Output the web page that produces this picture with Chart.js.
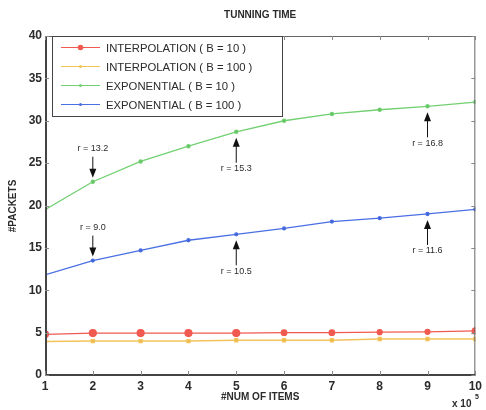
<!DOCTYPE html>
<html>
<head>
<meta charset="utf-8">
<script src="https://cdn.jsdelivr.net/npm/chart.js@4"></script>
<style>
  html, body { margin: 0; padding: 0; background: #fff; }
  #wrap { width: 486px; height: 410px; }
</style>
</head>
<body>
<div id="wrap"><canvas id="timeChart" width="486" height="410"></canvas></div>
<script>
const items = [1, 2, 3, 4, 5, 6, 7, 8, 9, 10];
const interp10 = [4.8, 4.95, 4.95, 4.95, 4.95, 5.0, 5.0, 5.05, 5.1, 5.2];
const interp100 = [3.95, 4.0, 4.0, 4.0, 4.1, 4.1, 4.1, 4.25, 4.25, 4.25];
const expo10 = [19.5, 22.8, 25.2, 27.0, 28.7, 30.0, 30.8, 31.3, 31.7, 32.2];
const expo100 = [11.8, 13.5, 14.7, 15.9, 16.6, 17.3, 18.1, 18.5, 19.0, 19.55];
const seriesNames = [
  "INTERPOLATION ( B = 10 )",
  "INTERPOLATION ( B = 100 )",
  "EXPONENTIAL ( B = 10 )",
  "EXPONENTIAL ( B = 100 )",
];
const yTicks = [0, 5, 10, 15, 20, 25, 30, 35, 40];
// ratio notes: dataset index, point index, text, arrow direction
const notes = [
  [2, 1, "r = 13.2", "down"],
  [3, 1, "r = 9.0", "down"],
  [2, 4, "r = 15.3", "up"],
  [3, 4, "r = 10.5", "up"],
  [2, 8, "r = 16.8", "up"],
  [3, 8, "r = 11.6", "up"],
];

const FONT = "'Liberation Sans', Arial, sans-serif";
const ink = "#2b2b2b";

function pts(vals) {
  return vals.map((v, i) => ({ x: items[i], y: v }));
}

const frame = {
  id: "frame",
  afterDraw(chart) {
    const ctx = chart.ctx;
    const a = chart.chartArea;
    const xs = chart.scales.x;
    const ys = chart.scales.y;
    ctx.save();

    // box + inward ticks
    ctx.strokeStyle = "#666";
    ctx.lineWidth = 1;
    ctx.strokeRect(a.left + 0.5, a.top + 0.5, a.right - a.left - 1, a.bottom - a.top);
    ctx.strokeStyle = "#444";
    ctx.lineWidth = 2;
    ctx.beginPath();
    ctx.moveTo(a.left + 1, a.top);
    ctx.lineTo(a.left + 1, a.bottom);
    ctx.lineTo(a.right, a.bottom);
    ctx.stroke();
    ctx.lineWidth = 1;
    ctx.strokeStyle = "#888";
    ctx.beginPath();
    items.forEach((v) => {
      const px = Math.round(xs.getPixelForValue(v)) + 0.5;
      ctx.moveTo(px, a.bottom); ctx.lineTo(px, a.bottom - 4);
      ctx.moveTo(px, a.top); ctx.lineTo(px, a.top + 4);
    });
    yTicks.forEach((v) => {
      const py = Math.round(ys.getPixelForValue(v)) + 0.5;
      ctx.moveTo(a.left, py); ctx.lineTo(a.left + 4, py);
      ctx.moveTo(a.right, py); ctx.lineTo(a.right - 4, py);
    });
    ctx.stroke();

    // titles
    ctx.fillStyle = ink;
    ctx.textAlign = "center";
    ctx.textBaseline = "middle";
    ctx.font = "bold 10px " + FONT;
    ctx.fillText("TUNNING TIME", (a.left + a.right) / 2, 15);
    ctx.fillText("#NUM OF ITEMS", (a.left + a.right) / 2, 397);
    ctx.textAlign = "left";
    ctx.fillText("x 10", 452, 404);
    ctx.font = "bold 7px " + FONT;
    ctx.fillText("5", 475, 397);
    ctx.textAlign = "center";
    ctx.save();
    ctx.translate(13, 206);
    ctx.rotate(-Math.PI / 2);
    ctx.font = "bold 10px " + FONT;
    ctx.fillText("#PACKETS", 0, 0);
    ctx.restore();

    // ratio notes with arrows pointing at the marked point
    ctx.font = "9px " + FONT;
    notes.forEach(([di, pi, text, dir]) => {
      const p = chart.getDatasetMeta(di).data[pi];
      const x = p.x;
      const s = dir === "up" ? 1 : -1;
      const tip = p.y + s * (dir === "up" ? 6 : 4);
      const tail = p.y + s * (dir === "up" ? 31 : 25);
      const lab = p.y + s * (dir === "up" ? 37 : 33);
      ctx.strokeStyle = "#111";
      ctx.lineWidth = 1;
      ctx.beginPath();
      ctx.moveTo(x, tail);
      ctx.lineTo(x, tip + s * 6);
      ctx.stroke();
      ctx.fillStyle = "#111";
      ctx.beginPath();
      ctx.moveTo(x, tip);
      ctx.lineTo(x - 3.5, tip + s * 9);
      ctx.lineTo(x + 3.5, tip + s * 9);
      ctx.closePath();
      ctx.fill();
      ctx.fillStyle = ink;
      ctx.fillText(text, x, lab);
    });

    // legend box
    const lx = 52, ly = 36, lw = 230, lh = 80;
    ctx.fillStyle = "#fff";
    ctx.fillRect(lx, ly, lw, lh);
    ctx.strokeStyle = "#444";
    ctx.strokeRect(lx + 0.5, ly + 0.5, lw, lh);
    ctx.font = "11.3px " + FONT;
    ctx.textAlign = "left";
    chart.data.datasets.forEach((ds, i) => {
      const y = ly + 11.5 + i * 19;
      ctx.strokeStyle = ds.borderColor;
      ctx.lineWidth = 1;
      ctx.beginPath();
      ctx.moveTo(61, y);
      ctx.lineTo(100, y);
      ctx.stroke();
      ctx.fillStyle = ds.borderColor;
      ctx.beginPath();
      ctx.arc(80.5, y, i === 0 ? 2.8 : 1.5, 0, Math.PI * 2);
      ctx.fill();
      ctx.fillStyle = ink;
      ctx.fillText(ds.label, 106, y + 1);
    });
    ctx.restore();
  },
};

new Chart(document.getElementById("timeChart"), {
  type: "line",
  data: {
    datasets: [
      {
        label: seriesNames[0],
        data: pts(interp10),
        borderColor: "#f05a50",
        backgroundColor: "#f05a50",
        pointRadius: [3.5, 3.5, 3.5, 3.5, 3.5, 2.8, 2.8, 2.5, 2.5, 3.2],
        pointStyle: "circle",
        borderWidth: 1.2,
      },
      {
        label: seriesNames[1],
        data: pts(interp100),
        borderColor: "#f2c35a",
        backgroundColor: "#e8b040",
        pointRadius: 2,
        pointStyle: "rect",
        borderWidth: 1.5,
      },
      {
        label: seriesNames[2],
        data: pts(expo10),
        borderColor: "#72d072",
        backgroundColor: "#5cbf5c",
        pointRadius: 1.6,
        pointStyle: "circle",
        borderWidth: 1.3,
      },
      {
        label: seriesNames[3],
        data: pts(expo100),
        borderColor: "#4a6fe3",
        backgroundColor: "#3a5fd3",
        pointRadius: 1.5,
        pointStyle: "circle",
        borderWidth: 1.3,
      },
    ],
  },
  options: {
    responsive: false,
    animation: false,
    layout: { padding: { top: 36, right: 5, left: 0, bottom: 0 } },
    plugins: {
      legend: { display: false },
      title: { display: false },
      tooltip: { enabled: false },
    },
    scales: {
      x: {
        type: "linear",
        min: 1,
        max: 10,
        grid: { display: false, drawTicks: false },
        border: { display: false },
        afterFit: (s) => { s.height = 35; },
        ticks: {
          stepSize: 1,
          color: ink,
          padding: 4,
          font: { family: FONT, size: 12, weight: "bold" },
        },
      },
      y: {
        min: 0,
        max: 40,
        grid: { display: false, drawTicks: false },
        border: { display: false },
        afterFit: (s) => { s.width = 45; },
        ticks: {
          stepSize: 5,
          color: ink,
          padding: 3,
          font: { family: FONT, size: 12, weight: "bold" },
        },
      },
    },
  },
  plugins: [frame],
});
</script>
</body>
</html>
